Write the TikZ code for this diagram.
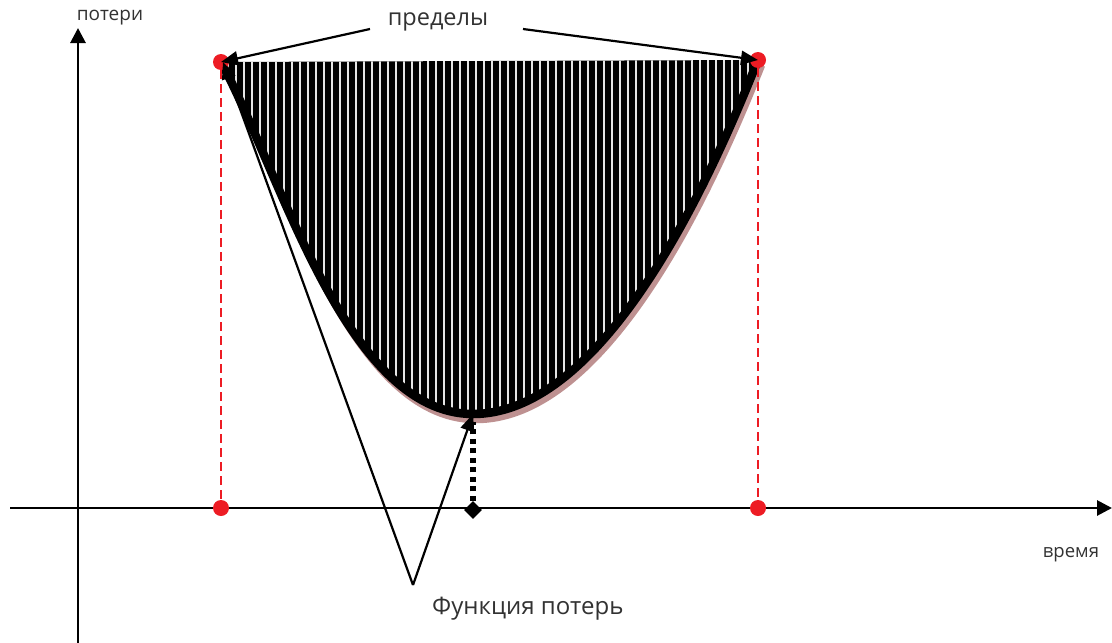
\documentclass[tikz,border=0pt]{standalone}
\usepackage{fontspec}
\setmainfont{Open Sans}
\usetikzlibrary{arrows.meta,shapes.geometric}
\definecolor{limitred}{RGB}{237,28,36}
\definecolor{shadowred}{RGB}{190,145,145}
\definecolor{labelgray}{RGB}{50,50,50}
\tikzset{
  axis/.style={line width=2.8pt, -{Triangle[length=15pt,width=15pt]}},
  pointer/.style={line width=2.2pt, -{Triangle[length=17pt,width=14pt]}},
  limitline/.style={limitred, line width=1.8pt, dash pattern=on 9pt off 5pt},
  limitdot/.style={circle, fill=limitred, inner sep=0pt, minimum size=16pt},
  label/.style={text=labelgray, inner sep=1pt},
  losscurve/.style={line width=8.5pt, line join=round},
}
\begin{document}
\begin{tikzpicture}[x=1pt, y=-1pt]
  \useasboundingbox (0,0) rectangle (1112,643);
  % axes
  \coordinate (yfrom) at (78,643);
  \coordinate (yto) at (78,28);
  \coordinate (xfrom) at (10,508);
  \coordinate (xto) at (1112,508);
  \draw[axis] (yfrom) -- (yto);
  \draw[axis] (xfrom) -- (xto);
  \node[label, font=\fontsize{19}{22}\selectfont] (lossax) at (110,18) {потери};
  \node[label, font=\fontsize{18.5}{22}\selectfont] (timeax) at (1071,555) {время};
  % curve ends and minimum
  \coordinate (L) at (221,62);
  \coordinate (R) at (758,60);
  \coordinate (M) at (473,414);
  \coordinate (Ls) at (224,67);
  \coordinate (Rs) at (761,65);
  \coordinate (Ms) at (476,419);
  % shaded area
  \draw[shadowred, losscurve] (Ls) .. controls (283,175) and (348,419) .. (Ms) parabola (Rs);
  \fill[black] (L) .. controls (280,170) and (345,414) .. (M) parabola (R) -- cycle;
  \begin{scope}
    \clip (L) .. controls (280,170) and (345,414) .. (M) parabola (R) -- cycle;
    \foreach \x in {228,236,...,756}
      \draw[white!80!gray, line width=1.8pt] (\x,40) -- (\x,430);
  \end{scope}
  \draw[losscurve] (L) .. controls (280,170) and (345,414) .. (M) parabola (R);
  % limits
  \node[limitdot] (Ltop) at (L) {};
  \node[limitdot] (Rtop) at (R) {};
  \node[limitdot] (Lbot) at (221,508) {};
  \node[limitdot] (Rbot) at (758,508) {};
  \draw[limitline] (Ltop) -- (Lbot);
  \draw[limitline] (Rtop) -- (Rbot);
  % minimum marker
  \node[diamond, fill=black, inner sep=0pt, minimum size=18pt] (Mbot) at (473,510) {};
  \draw[line width=5.5pt, dash pattern=on 5pt off 4.5pt] (Mbot.north) -- (473,422);
  % labels with pointers
  \node[label, font=\fontsize{23.5}{28}\selectfont] (lim) at (438,22) {пределы};
  \coordinate (limL) at (370,29);
  \coordinate (limR) at (523,29);
  \draw[pointer] (limL) -- (L);
  \draw[pointer] (limR) -- (R);
  \node[label, anchor=west, font=\fontsize{24}{28}\selectfont] (fn) at (431,609) {Функция потерь};
  \coordinate (fnend) at (413,585);
  \draw[pointer] (fnend) -- (223,62);
  \draw[pointer] (fnend) -- (M);
\end{tikzpicture}
\end{document}
